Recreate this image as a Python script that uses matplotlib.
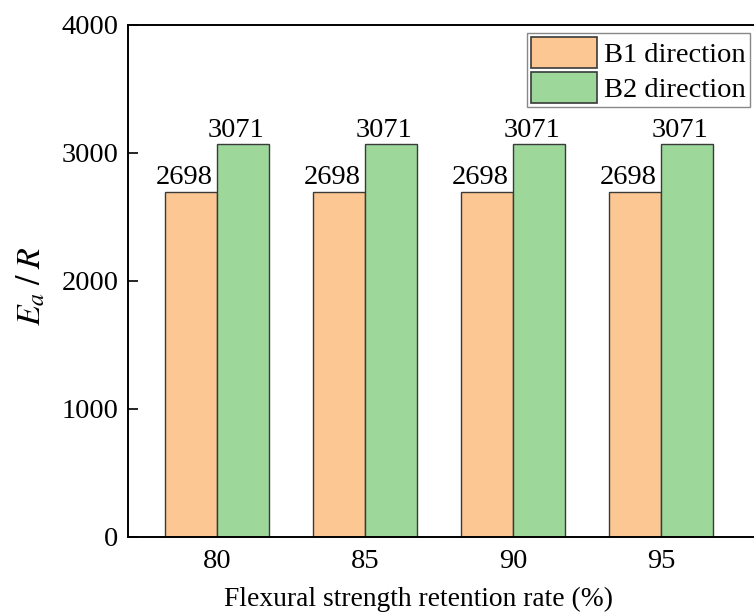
import matplotlib
matplotlib.use("Agg")
import matplotlib.pyplot as plt
import numpy as np

# Data
categories = ["80", "85", "90", "95"]
b1_values = [2698, 2698, 2698, 2698]
b2_values = [3071, 3071, 3071, 3071]
series_labels = ["B1 direction", "B2 direction"]

plt.rcParams["font.family"] = ["Liberation Serif", "DejaVu Serif"]
plt.rcParams["mathtext.fontset"] = "stix"

FS = 20.5
c_b1 = "#FDC794"
c_b2 = "#9DD79A"
edge = "#3a3a3a"

fig = plt.figure(figsize=(7.54, 6.12), dpi=100)
ax = fig.add_axes([128 / 754, 75 / 612, 642 / 754, 512 / 612])

x = np.arange(len(categories))
w = 0.35
bars1 = ax.bar(x - w / 2, b1_values, w, color=c_b1, edgecolor=edge, linewidth=1.0,
               label=series_labels[0], zorder=2)
bars2 = ax.bar(x + w / 2, b2_values, w, color=c_b2, edgecolor=edge, linewidth=1.0,
               label=series_labels[1], zorder=2)

for bars, vals in ((bars1, b1_values), (bars2, b2_values)):
    for b, v in zip(bars, vals):
        ax.annotate(f"{v}", (b.get_x() + b.get_width() / 2, v),
                    xytext=(-5, 1), textcoords="offset points",
                    ha="center", va="bottom", fontsize=FS)

ax.set_xlim(-0.6, 3.736)
ax.set_ylim(0, 4000)
ax.set_yticks([0, 1000, 2000, 3000, 4000])
ax.set_xticks(x)
ax.set_xticklabels(categories)

ax.tick_params(axis="y", direction="in", length=7, width=1.2, pad=7, labelsize=FS)
ax.tick_params(axis="x", length=0, pad=9, labelsize=FS)
for s in ax.spines.values():
    s.set_linewidth(1.4)

ax.set_xlabel("Flexural strength retention rate (%)", fontsize=19.8)
ax.xaxis.set_label_coords(0.452, -0.097)
ax.set_ylabel(r"$E_a\;/\;R$", fontsize=FS + 4)
ax.yaxis.set_label_coords(-0.125, 0.49)

leg = ax.legend(loc="upper right", bbox_to_anchor=(750 / 754, 1 - 33 / 612),
                bbox_transform=fig.transFigure, borderaxespad=0,
                fontsize=FS, handlelength=2.3, handleheight=1.3,
                handletextpad=0.25, labelspacing=0.12, borderpad=0.15,
                fancybox=False, framealpha=1)
leg.get_frame().set_edgecolor("#888888")
leg.get_frame().set_linewidth(1.0)
for h in leg.legend_handles:
    h.set_edgecolor(edge)
    h.set_linewidth(1.2)

fig.savefig("out.png", dpi=100)
